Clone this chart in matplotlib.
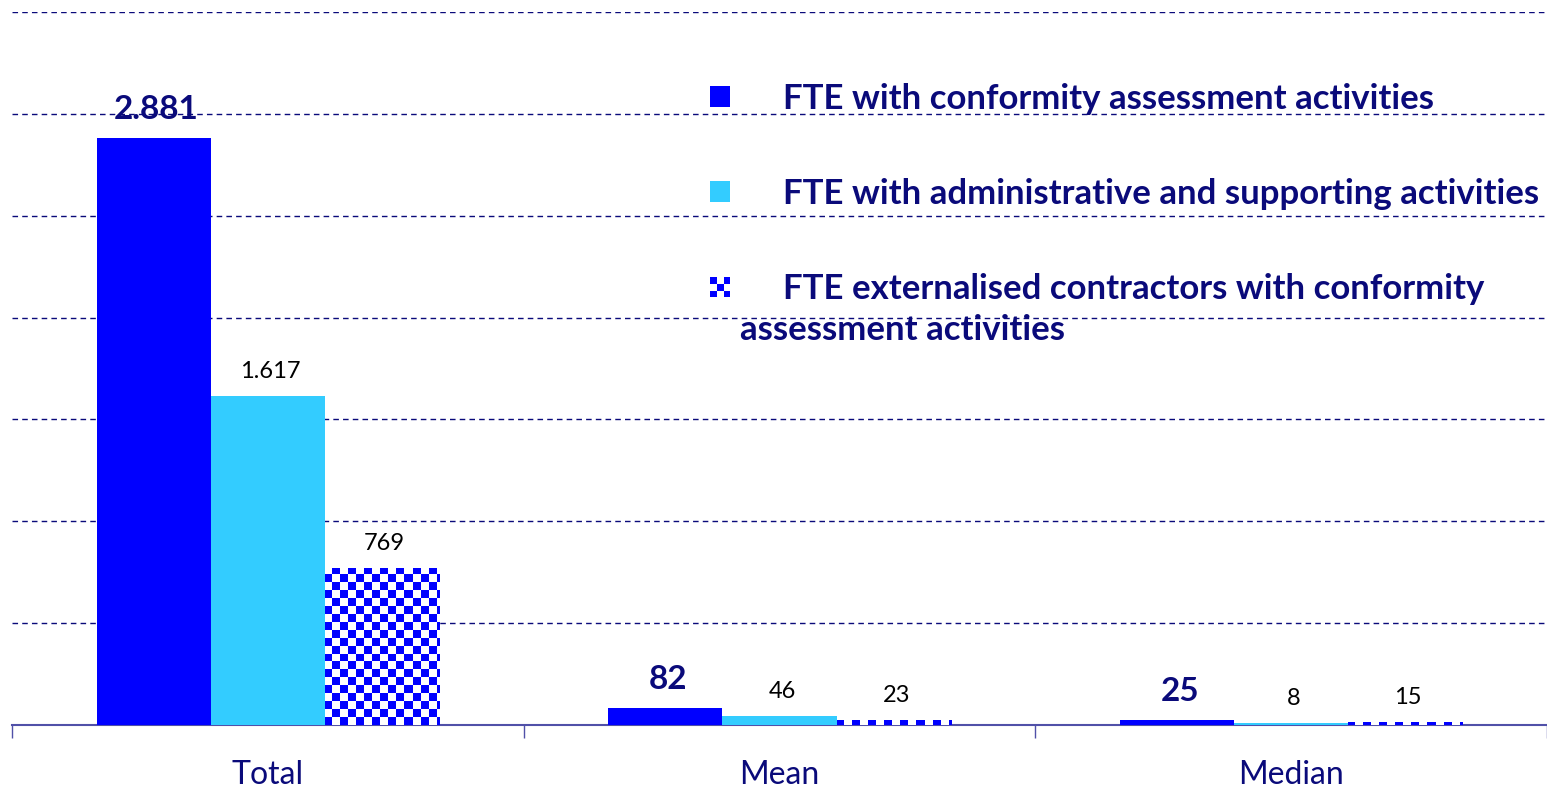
import numpy as np
import matplotlib.pyplot as plt
from matplotlib.patches import Rectangle, Patch
from matplotlib.colors import ListedColormap
from matplotlib.legend_handler import HandlerBase

# Daten
categories = ['Total', 'Mean', 'Median']
fte_conformity = [2881, 82, 25]
fte_admin = [1617, 46, 8]
fte_external = [769, 23, 15]
labels_conformity = ['2.881', '82', '25']
labels_admin = ['1.617', '46', '8']
labels_external = ['769', '23', '15']
series_names = ['FTE with conformity assessment activities',
                'FTE with administrative and supporting activities',
                'FTE externalised contractors with conformity',
                'assessment activities']

BLUE = '#0000FF'
LIGHT = '#33CCFF'
NAVY = '#0A0A7A'
FONT = 'Lato'
LEG_SIZE = 25


class CheckerHandler(HandlerBase):
    # 3x3 Schachbrett als Legendensymbol
    def create_artists(self, legend, orig_handle, xdescent, ydescent,
                       width, height, fontsize, trans):
        s = min(width, height) / 3
        arts = []
        for i in range(3):
            for j in range(3):
                if (i + j) % 2 == 0:
                    arts.append(Rectangle((-xdescent + i * s, -ydescent + j * s), s, s,
                                          facecolor=BLUE, edgecolor='none', transform=trans))
        return arts


plt.rcParams['font.family'] = [FONT, 'DejaVu Sans']
fig = plt.figure(figsize=(15.47, 7.90), dpi=100)
ax = fig.add_axes([12 / 1547, 65 / 790, 1535 / 1547, 713 / 790])

x = np.arange(len(categories))
w = 0.223

b1 = ax.bar(x - w, fte_conformity, w, color=BLUE, zorder=3)
b2 = ax.bar(x, fte_admin, w, color=LIGHT, zorder=3)
b3 = ax.bar(x + w, fte_external, w, color='white', zorder=3)

# Schachbrettmuster fuer die dritte Serie
cell = 8
ax_px = ax.get_window_extent()
rows = int(np.ceil(ax_px.height / cell))
cols = int(np.ceil(ax_px.width / cell))
checker = np.indices((rows, cols)).sum(axis=0) % 2
for bar in b3:
    im = ax.imshow(checker, cmap=ListedColormap(['white', BLUE]),
                   extent=(-0.5, 2.5, 0, 3500), aspect='auto',
                   interpolation='nearest', zorder=4, origin='lower')
    im.set_clip_path(bar)

ax.set_xlim(-0.5, 2.5)
ax.set_ylim(0, 3500)

# Beschriftungen
for bar, lab in zip(b1, labels_conformity):
    ax.annotate(lab, (bar.get_x() + bar.get_width() / 2, bar.get_height()),
                xytext=(2, 10), textcoords='offset points', ha='center', va='bottom',
                fontsize=24, fontweight='bold', color=NAVY)
for bars, labs in ((b2, labels_admin), (b3, labels_external)):
    for bar, lab in zip(bars, labs):
        ax.annotate(lab, (bar.get_x() + bar.get_width() / 2, bar.get_height()),
                    xytext=(2, 10), textcoords='offset points', ha='center', va='bottom',
                    fontsize=17, color='black')

# Achsen
ax.set_yticks(np.arange(500, 3501, 500))
ax.yaxis.grid(True, color=NAVY, linestyle=(0, (4, 3)), linewidth=1)
ax.tick_params(axis='y', left=False, labelleft=False)
for s in ('left', 'right', 'top'):
    ax.spines[s].set_visible(False)
ax.spines['bottom'].set_color('#5050A8')
ax.spines['bottom'].set_linewidth(1.5)
ax.set_xticks(x)
ax.set_xticklabels(categories, fontsize=23, color=NAVY)
ax.tick_params(axis='x', which='major', length=0, pad=25)
ax.set_xticks([-0.5, 0.5, 1.5, 2.5], minor=True)
ax.tick_params(axis='x', which='minor', length=9, width=1, color='#5050A8', direction='out')
ax.set_axisbelow(True)

# Legende
h1 = Patch(facecolor=BLUE, edgecolor='none')
h2 = Patch(facecolor=LIGHT, edgecolor='none')
h3 = Patch(facecolor='white', edgecolor='none')
fs_px = LEG_SIZE * 100 / 72
leg = ax.legend([h1, h2, h3], series_names[:3], loc='upper left',
                bbox_to_anchor=(0.455, 0.901), frameon=False,
                prop={'family': FONT, 'weight': 'bold', 'size': LEG_SIZE},
                handlelength=20 / fs_px, handleheight=20 / fs_px,
                handletextpad=53 / fs_px,
                labelspacing=1.82, borderpad=0, borderaxespad=0,
                handler_map={h3: CheckerHandler()})
for t in leg.get_texts():
    t.set_color(NAVY)
fig.text(740 / 1547, 1 - 330 / 790, series_names[3], ha='left', va='center',
         fontsize=LEG_SIZE, fontweight='bold', color=NAVY)

fig.savefig('out.png', dpi=100, facecolor='white')
